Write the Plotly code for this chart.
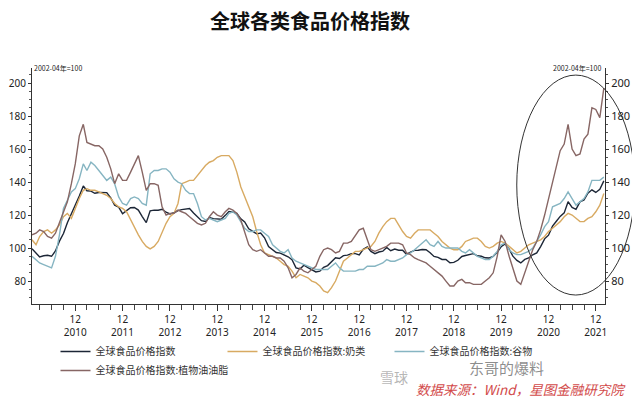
import pandas as pd
import plotly.graph_objects as go

# ---- data (monthly, 2010-01 .. 2022-02) ----
months = pd.date_range("2010-01-01", "2022-02-01", freq="MS")

food = [
    99.6, 96.6, 94.6, 95.3, 95.6, 95.0, 98.2, 104.2, 108.8, 115.3, 120.6, 126.6,
    131.5, 137.6, 134.7, 134.5, 133.2, 133.7, 133.5, 133.6, 130.4, 125.9, 124.8, 120.8,
    122.7, 124.4, 124.6, 123.0, 119.1, 115.4, 122.6, 123.0, 122.9, 123.5, 121.7, 120.7,
    121.4, 122.7, 123.3, 123.6, 124.0, 121.3, 119.1, 116.6, 116.1, 118.5, 117.8, 117.5,
    117.5, 119.8, 122.2, 121.8, 121.0, 117.7, 115.8, 111.7, 110.1, 108.6, 109.1, 106.2,
    100.9, 99.2, 97.3, 96.9, 96.0, 94.7, 93.0, 88.0, 87.3, 89.6, 88.1, 86.7,
    85.5, 86.0, 88.3, 89.4, 91.6, 94.1, 93.7, 95.4, 95.7, 96.6, 96.6, 95.9,
    99.2, 100.7, 98.0, 96.6, 97.6, 98.1, 100.4, 98.4, 99.4, 98.7, 98.7, 96.2,
    97.5, 98.6, 98.7, 99.1, 99.0, 97.2, 94.9, 94.4, 93.1, 93.1, 91.1, 91.3,
    92.6, 94.9, 95.5, 96.3, 96.6, 95.3, 95.0, 94.1, 94.0, 95.0, 97.5, 100.8,
    102.5, 99.4, 95.1, 92.5, 91.0, 93.1, 94.0, 95.9, 97.1, 100.9, 105.6, 107.8,
    113.3, 116.4, 119.2, 121.3, 128.1, 124.6, 123.5, 128.0, 129.2, 133.2, 135.3, 133.7,
    135.6, 140.7,
]

dairy = [
    105, 102, 107, 110, 111, 109, 111, 114, 119, 121, 118, 124,
    130, 135, 136, 135, 135, 134, 133, 132, 130, 127, 125, 124,
    122, 117, 113, 108, 104, 101, 99.5, 101, 104, 110, 115, 119,
    121, 127, 139, 140, 141, 141, 144, 147, 150, 152, 153, 155,
    156, 156, 156, 153, 146, 137, 131, 125, 119, 110, 102, 97,
    96, 95, 94, 92, 90, 89, 86, 82, 84, 83, 82, 80,
    79, 77, 74, 73, 76, 80, 86, 92, 94, 96, 98, 98,
    99, 100, 101, 104, 109, 113, 116, 118, 118, 114, 110, 107,
    106, 109, 111, 111, 111, 111, 109, 107, 104, 102, 100, 99,
    99, 101, 104, 105, 106, 106, 104, 101, 100, 101, 103, 104,
    103, 101, 99, 97, 98, 100, 102, 103, 104, 105, 107, 110,
    112, 114, 116, 119, 121, 120, 118, 116, 116, 118, 119, 122,
    126, 133,
]

cereals = [
    95, 93, 91, 90, 89, 88, 95, 108, 124, 129, 134, 136,
    142, 151, 147, 152, 150, 147, 144, 141, 143, 139, 131, 127,
    126, 130, 131, 130, 127, 126, 145, 147, 147, 148, 148, 146,
    142, 140, 139, 135, 133, 133, 127, 119, 117, 118, 117, 116,
    117, 118, 121, 122, 120, 116, 112, 110, 110, 111, 111, 109,
    107, 102, 100, 98, 97, 99, 94, 92, 91, 90, 89, 88,
    87, 87, 87, 87, 89, 91, 88, 86, 86, 86, 86, 87,
    87, 89, 89, 89, 90, 91, 93, 92, 92, 93, 94, 96,
    97, 99, 101, 103, 105, 102, 101, 104, 101, 100, 100, 100,
    100, 98, 97, 99, 97, 95, 94, 93, 93, 95, 98, 102,
    103, 99, 97, 96, 96, 97, 98, 100, 104, 108, 113, 116,
    125, 126, 127, 130, 134, 130, 126, 128, 130, 134, 141, 141,
    141, 143,
]

veg_oils = [
    108, 109, 111, 110, 107, 106, 109, 115, 122, 128, 139, 151,
    168, 175, 164, 163, 162, 162, 160, 155, 148, 139, 145, 141,
    141, 146, 151, 156, 146, 135, 139, 139, 138, 125, 120, 121,
    121, 123, 122, 121, 119, 117, 115, 114, 115, 119, 122, 120,
    119, 122, 124, 123, 121, 117, 110, 102, 99, 98, 99, 97,
    95, 95, 94, 94, 92, 88, 82, 84, 88, 86, 85, 87,
    89, 95, 99, 100, 99, 97, 98, 103, 103, 104, 108, 111,
    112, 105, 99, 98, 99, 100, 101, 103, 103, 103, 102, 97,
    96, 94, 93, 92, 91, 89, 87, 85, 83, 80, 77, 77,
    80, 81, 79, 79, 78, 78, 78, 80, 82, 85, 95, 108,
    104, 95, 87, 80, 78, 85, 93, 99, 104, 111, 120, 130,
    140, 151, 159, 163, 175, 160, 156, 157, 166, 169, 185, 184,
    179, 197,
]

series_names = [
    "全球食品价格指数",
    "全球食品价格指数:奶类",
    "全球食品价格指数:谷物",
    "全球食品价格指数:植物油油脂",
]
series_colors = ["#1c2636", "#d8aa62", "#86b5c2", "#876664"]

tick_dates = [f"{y}-12-01" for y in range(2010, 2022)]
tick_text = [f"12<br>{y}" for y in range(2010, 2022)]
y_ticks = [80, 100, 120, 140, 160, 180, 200]

# ---- figure ----
font_lat = "Noto Sans, Noto Sans CJK SC, sans-serif"
font_cjk = "Noto Sans CJK SC, sans-serif"

fig = go.Figure()
data_list = [food, dairy, cereals, veg_oils]
for i in range(4):
    fig.add_trace(go.Scatter(
        x=months, y=data_list[i], mode="lines", name=series_names[i],
        line=dict(color=series_colors[i], width=1.4),
        yaxis="y2" if i == 3 else "y",
        legendrank=i,
    ))

yr = [66.1, 209.1]
axis_common = dict(
    range=yr, tickvals=y_ticks, showline=True, linecolor="#333", linewidth=1,
    ticks="outside", ticklen=3, tickcolor="#333", showgrid=False, zeroline=False,
    automargin=False,
    minor=dict(dtick=5, ticks="outside", ticklen=2, tickcolor="#555"),
)

# the page body adds an 8px offset, so margins are shifted by -8px
fig.update_layout(
    width=640, height=399,
    paper_bgcolor="white", plot_bgcolor="white",
    margin=dict(l=24, r=43, t=60, b=103, autoexpand=False),
    title=dict(text="<b>全球各类食品价格指数</b>", x=0.472, xanchor="center",
               y=0.966, yanchor="middle",
               font=dict(family=font_cjk, size=20, color="#111")),
    xaxis=dict(
        type="date", range=["2010-01-01", "2022-02-10"],
        tickvals=tick_dates, ticktext=tick_text, automargin=False,
        showline=True, linecolor="#333", linewidth=1,
        ticks="outside", ticklen=6, tickcolor="#333", showgrid=False,
        tickfont=dict(family=font_lat, size=10, color="#222"),
        minor=dict(tick0="2009-12-01", dtick="M3", ticks="outside", ticklen=5,
                   tickcolor="#444"),
    ),
    yaxis=dict(**axis_common, side="left",
               tickfont=dict(family=font_lat, size=10, color="#222")),
    yaxis2=dict(**axis_common, side="right", overlaying="y",
                tickfont=dict(family=font_lat, size=11, color="#222")),
    showlegend=True,
    legend=dict(
        orientation="h", x=0.041, xanchor="left", y=-0.14, yanchor="top",
        font=dict(family=font_cjk, size=10, color="#333"),
        entrywidth=122, entrywidthmode="pixels", itemwidth=30,
        tracegroupgap=0, bgcolor="rgba(0,0,0,0)",
    ),
    shapes=[dict(
        type="circle", xref="paper", yref="paper",
        x0=0.846, x1=1.052, y0=0.038, y1=0.970,
        line=dict(color="#333", width=1),
    )],
    annotations=[
        dict(text="2002-04年=100", xref="paper", yref="paper", x=0.0, y=1.0,
             xanchor="left", yanchor="middle", showarrow=False,
             font=dict(family=font_cjk, size=7, color="#222")),
        dict(text="2002-04年=100", xref="paper", yref="paper", x=0.9965, y=1.0,
             xanchor="right", yanchor="middle", showarrow=False,
             font=dict(family=font_cjk, size=7, color="#222")),
        dict(text="数据来源：Wind，星图金融研究院", xref="paper", yref="paper",
             x=1.04, y=-0.362, xanchor="right", yanchor="middle", showarrow=False,
             font=dict(family=font_cjk, size=13.5, color="#d24a4a", style="italic")),
        dict(text="雪球", xref="paper", yref="paper", x=0.603, y=-0.31,
             xanchor="left", yanchor="middle", showarrow=False,
             font=dict(family=font_cjk, size=14, color="rgba(120,120,120,0.55)")),
        dict(text="东哥的爆料", xref="paper", yref="paper", x=0.759, y=-0.268,
             xanchor="left", yanchor="middle", showarrow=False,
             font=dict(family=font_cjk, size=15, color="rgba(90,90,90,0.7)")),
    ],
)

fig.write_html("out.html")
